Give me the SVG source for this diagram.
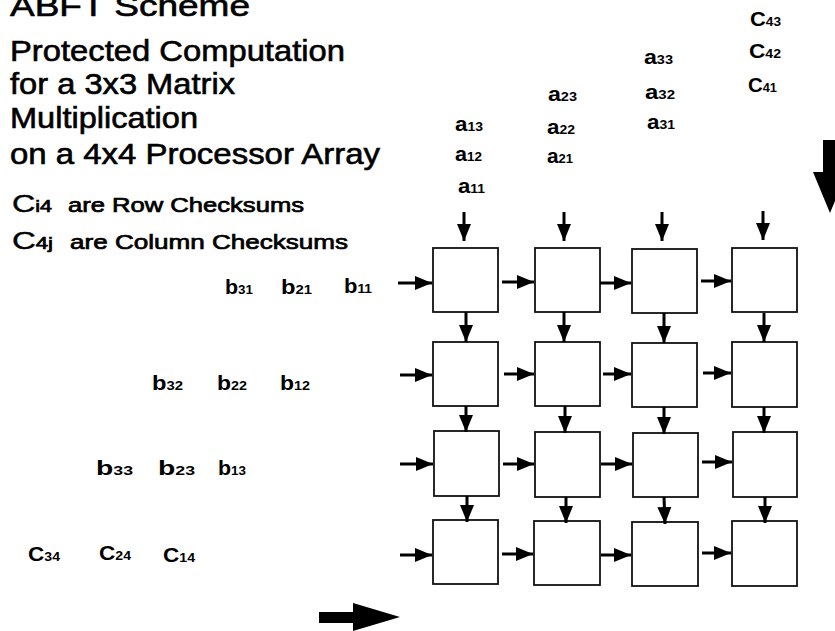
<svg xmlns="http://www.w3.org/2000/svg" width="835" height="631" viewBox="0 0 835 631">
<defs>
<style>
.t{font-family:"Liberation Sans",Arial,sans-serif;font-size:29px;fill:#000;stroke:#000;stroke-width:0.6}
.m{font-family:"Liberation Sans",Arial,sans-serif;fill:#000;stroke:#000;stroke-width:0.7}
.lab{font-family:"Liberation Sans",Arial,sans-serif;font-weight:bold;font-size:20px;fill:#000}
.s{font-size:12.5px}
.box{fill:#fff;stroke:#111;stroke-width:1.8}
.c{stroke:#000;stroke-width:3;fill:none;marker-end:url(#ah)}
.big{fill:#000}
</style>
<marker id="ah" markerUnits="userSpaceOnUse" markerWidth="17" markerHeight="15" refX="17" refY="7.5" orient="auto">
<path d="M0,0.5 L17,7.5 L0,14.5 z" fill="#000"/>
</marker>
</defs>
<rect width="835" height="631" fill="#fff"/>

<g id="titles">
<text class="t" x="10" y="16" textLength="240" lengthAdjust="spacingAndGlyphs">ABFT Scheme</text>
<text class="t" x="10" y="61" textLength="335" lengthAdjust="spacingAndGlyphs">Protected Computation</text>
<text class="t" x="10" y="94" textLength="225" lengthAdjust="spacingAndGlyphs">for a 3x3 Matrix</text>
<text class="t" x="10" y="128" textLength="188" lengthAdjust="spacingAndGlyphs">Multiplication</text>
<text class="t" x="10" y="164" textLength="370" lengthAdjust="spacingAndGlyphs">on a 4x4 Processor Array</text>
<text class="m" x="12" y="212" textLength="40" lengthAdjust="spacingAndGlyphs"><tspan style="font-size:24px;stroke-width:0.4">C</tspan><tspan style="font-size:16px">i4</tspan></text>
<text class="m" x="68" y="212" style="font-size:20px" textLength="236" lengthAdjust="spacingAndGlyphs">are Row Checksums</text>
<text class="m" x="12" y="249" textLength="41" lengthAdjust="spacingAndGlyphs"><tspan style="font-size:24px;stroke-width:0.4">C</tspan><tspan style="font-size:16px">4j</tspan></text>
<text class="m" x="70" y="249" style="font-size:20px" textLength="278" lengthAdjust="spacingAndGlyphs">are Column Checksums</text>
</g>

<g id="a-inputs">
<text class="lab" x="455" y="131" textLength="28" lengthAdjust="spacingAndGlyphs">a<tspan class="s">13</tspan></text>
<text class="lab" x="455" y="161" textLength="27" lengthAdjust="spacingAndGlyphs">a<tspan class="s">12</tspan></text>
<text class="lab" x="458" y="193" textLength="27" lengthAdjust="spacingAndGlyphs">a<tspan class="s">11</tspan></text>
<text class="lab" x="548" y="101" textLength="29" lengthAdjust="spacingAndGlyphs">a<tspan class="s">23</tspan></text>
<text class="lab" x="547" y="134" textLength="28" lengthAdjust="spacingAndGlyphs">a<tspan class="s">22</tspan></text>
<text class="lab" x="547" y="163" textLength="26" lengthAdjust="spacingAndGlyphs">a<tspan class="s">21</tspan></text>
<text class="lab" x="644" y="64" textLength="29" lengthAdjust="spacingAndGlyphs">a<tspan class="s">33</tspan></text>
<text class="lab" x="645" y="99" textLength="30" lengthAdjust="spacingAndGlyphs">a<tspan class="s">32</tspan></text>
<text class="lab" x="647" y="129" textLength="28" lengthAdjust="spacingAndGlyphs">a<tspan class="s">31</tspan></text>
<text class="lab" x="750" y="26" textLength="31" lengthAdjust="spacingAndGlyphs">C<tspan class="s">43</tspan></text>
<text class="lab" x="749" y="58" textLength="32" lengthAdjust="spacingAndGlyphs">C<tspan class="s">42</tspan></text>
<text class="lab" x="748" y="92" textLength="29" lengthAdjust="spacingAndGlyphs">C<tspan class="s">41</tspan></text>
</g>

<g id="b-inputs">
<text class="lab" x="225" y="294" textLength="28" lengthAdjust="spacingAndGlyphs">b<tspan class="s">31</tspan></text>
<text class="lab" x="281" y="294" textLength="31" lengthAdjust="spacingAndGlyphs">b<tspan class="s">21</tspan></text>
<text class="lab" x="344" y="293" textLength="28" lengthAdjust="spacingAndGlyphs">b<tspan class="s">11</tspan></text>
<text class="lab" x="152" y="390" textLength="31" lengthAdjust="spacingAndGlyphs">b<tspan class="s">32</tspan></text>
<text class="lab" x="217" y="390" textLength="30" lengthAdjust="spacingAndGlyphs">b<tspan class="s">22</tspan></text>
<text class="lab" x="280" y="390" textLength="30" lengthAdjust="spacingAndGlyphs">b<tspan class="s">12</tspan></text>
<text class="lab" x="96" y="475" textLength="37" lengthAdjust="spacingAndGlyphs">b<tspan class="s">33</tspan></text>
<text class="lab" x="158" y="475" textLength="37" lengthAdjust="spacingAndGlyphs">b<tspan class="s">23</tspan></text>
<text class="lab" x="218" y="475" textLength="28" lengthAdjust="spacingAndGlyphs">b<tspan class="s">13</tspan></text>
<text class="lab" x="28" y="561" textLength="32" lengthAdjust="spacingAndGlyphs">C<tspan class="s">34</tspan></text>
<text class="lab" x="99" y="560" textLength="32" lengthAdjust="spacingAndGlyphs">C<tspan class="s">24</tspan></text>
<text class="lab" x="163" y="562" textLength="32" lengthAdjust="spacingAndGlyphs">C<tspan class="s">14</tspan></text>
</g>

<g id="p11"><rect class="box" x="433" y="248" width="65" height="64"/></g>
<g id="p12"><rect class="box" x="535" y="248" width="65" height="64"/></g>
<g id="p13"><rect class="box" x="632" y="249" width="65" height="64"/></g>
<g id="p14"><rect class="box" x="732" y="248" width="65" height="64"/></g>
<g id="p21"><rect class="box" x="433" y="342" width="65" height="64"/></g>
<g id="p22"><rect class="box" x="535" y="342" width="65" height="64"/></g>
<g id="p23"><rect class="box" x="632" y="343" width="65" height="64"/></g>
<g id="p24"><rect class="box" x="732" y="342" width="65" height="65"/></g>
<g id="p31"><rect class="box" x="434" y="431" width="65" height="65"/></g>
<g id="p32"><rect class="box" x="535" y="432" width="65" height="65"/></g>
<g id="p33"><rect class="box" x="633" y="433" width="65" height="64"/></g>
<g id="p34"><rect class="box" x="733" y="432" width="64" height="65"/></g>
<g id="p41"><rect class="box" x="433" y="520" width="65" height="64"/></g>
<g id="p42"><rect class="box" x="534" y="521" width="66" height="64"/></g>
<g id="p43"><rect class="box" x="632" y="522" width="66" height="64"/></g>
<g id="p44"><rect class="box" x="732" y="521" width="65" height="65"/></g>

<g id="connectors">
<line class="c" x1="464" y1="212" x2="464" y2="241"/>
<line class="c" x1="564" y1="212" x2="564" y2="241"/>
<line class="c" x1="662" y1="212" x2="662" y2="241"/>
<line class="c" x1="763" y1="211" x2="763" y2="240"/>

<line class="c" x1="466" y1="312" x2="466" y2="342"/>
<line class="c" x1="564" y1="312" x2="564" y2="342"/>
<line class="c" x1="664" y1="313" x2="664" y2="343"/>
<line class="c" x1="764" y1="313" x2="764" y2="342"/>
<line class="c" x1="466" y1="406" x2="466" y2="432"/>
<line class="c" x1="565" y1="406" x2="565" y2="433"/>
<line class="c" x1="664" y1="407" x2="664" y2="434"/>
<line class="c" x1="764" y1="407" x2="764" y2="433"/>
<line class="c" x1="467" y1="496" x2="467" y2="522"/>
<line class="c" x1="566" y1="497" x2="566" y2="523"/>
<line class="c" x1="664" y1="497" x2="665" y2="524"/>
<line class="c" x1="765" y1="497" x2="765" y2="523"/>

<line class="c" x1="398" y1="283" x2="432" y2="283"/>
<line class="c" x1="502" y1="282" x2="534" y2="282"/>
<line class="c" x1="600" y1="283" x2="631" y2="283"/>
<line class="c" x1="701" y1="281" x2="731" y2="281"/>
<line class="c" x1="400" y1="375" x2="432" y2="375"/>
<line class="c" x1="504" y1="374" x2="534" y2="374"/>
<line class="c" x1="603" y1="374" x2="631" y2="374"/>
<line class="c" x1="703" y1="373" x2="731" y2="373"/>
<line class="c" x1="400" y1="464" x2="433" y2="464"/>
<line class="c" x1="503" y1="464" x2="534" y2="464"/>
<line class="c" x1="601" y1="464" x2="632" y2="464"/>
<line class="c" x1="702" y1="462" x2="732" y2="462"/>
<line class="c" x1="400" y1="555" x2="432" y2="555"/>
<line class="c" x1="502" y1="554" x2="533" y2="554"/>
<line class="c" x1="601" y1="555" x2="631" y2="555"/>
<line class="c" x1="702" y1="553" x2="731" y2="553"/>
</g>

<g id="flow-arrows">
<polygon class="big" points="823,140 837,140 837,172 847,172 830,213 813,172 823,172"/>
<polygon class="big" points="319,612 353,612 353,603 400,617 353,631 353,623 319,623"/>
</g>
</svg>
